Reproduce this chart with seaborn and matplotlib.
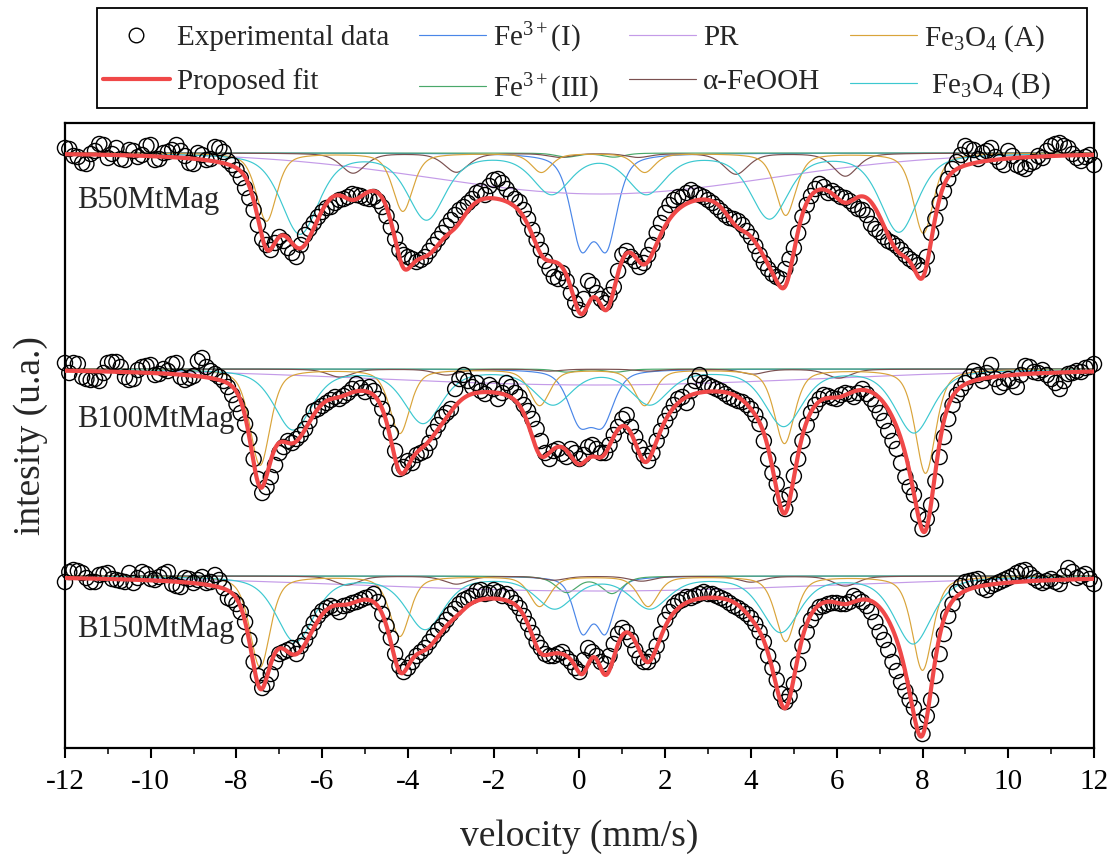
import numpy as np
import matplotlib
matplotlib.use("Agg")
import matplotlib.pyplot as plt
import seaborn as sns
from matplotlib.lines import Line2D
from matplotlib.patches import Rectangle
from matplotlib.ticker import MultipleLocator

# ---------------- data (absorption below baseline, units of 0.001) ----------------
samples = ["B50MtMag", "B100MtMag", "B150MtMag"]
offsets = [0.0, -0.216, -0.423]          # vertical stacking of the spectra
label_y = [0.945, 0.726, 0.516]

# channels at -12.0, -11.8, ..., 12.0
b50_abs = [-5, 3, 10, 1, -9, 5, -5, 7, -2, 2,
           -8, 6, -1, -8, 3, 11, 2, 6, -5, 8,
           17, 35, 57, 86, 97, 84, 95, 104, 82, 70,
           59, 54, 47, 44, 42, 45, 44, 54, 74, 97,
           104, 109, 104, 92, 80, 67, 57, 50, 40, 42,
           27, 30, 42, 49, 66, 87, 108, 124, 120, 140,
           157, 128, 140, 150, 134, 102, 104, 114, 102, 80,
           60, 47, 44, 37, 42, 47, 54, 62, 66, 72,
           84, 102, 116, 124, 116, 95, 64, 43, 31, 40,
           41, 45, 52, 57, 71, 79, 88, 93, 102, 109,
           117, 80, 50, 26, 9, -7, -3, 0, -5, 9,
           -2, 12, 16, 9, 5, -7, -10, -5, 5, 4,
           12]
# channels at -11.9, -11.7, ..., 11.9
b50_abs_mid = [-4, 4, 11, -2, -8, 1, 6, -3, 4, -7,
               7, 0, -3, -2, 10, 0, 7, -6, -1, 12,
               25, 45, 72, 92, 90, 88, 100, 92, 76, 64,
               55, 50, 46, 41, 43, 46, 48, 63, 86, 102,
               106, 107, 98, 86, 73, 62, 54, 46, 38, 33,
               26, 36, 46, 57, 77, 97, 116, 126, 128, 150,
               146, 132, 146, 142, 118, 98, 108, 110, 92, 70,
               52, 44, 40, 40, 44, 50, 58, 65, 68, 78,
               93, 110, 121, 126, 106, 80, 52, 36, 34, 38,
               44, 48, 56, 62, 76, 84, 90, 97, 106, 112,
               104, 66, 38, 16, 2, -4, 6, -2, 4, 12,
               3, 14, 11, 3, -2, -9, -7, 1, 8, 2]

b100_abs = [-6, -6, 8, 11, 12, -6, -7, 8, 10, -2,
            -4, 5, 2, -6, 11, 7, -11, 2, 8, 18,
            35, 55, 90, 124, 108, 84, 72, 70, 60, 42,
            37, 31, 30, 24, 15, 23, 22, 40, 64, 100,
            92, 86, 82, 63, 48, 40, 10, 12, 14, 25,
            20, 24, 18, 28, 42, 60, 84, 82, 85, 80,
            90, 78, 80, 84, 66, 50, 58, 78, 92, 72,
            52, 36, 28, 22, 6, 16, 20, 25, 30, 33,
            40, 55, 90, 115, 140, 107, 72, 44, 30, 27,
            30, 24, 28, 20, 30, 44, 62, 80, 108, 126,
            160, 136, 88, 50, 26, 14, 2, 12, -4, 18,
            10, 18, -3, 3, 1, 10, 20, 5, 2, -1,
            -5]
b100_abs_mid = [4, -5, 10, 10, 4, -7, -2, 11, 1, -3,
                6, 0, -5, 8, 9, -8, -2, 5, 12, 26,
                44, 70, 110, 118, 96, 78, 74, 66, 52, 40,
                34, 28, 27, 20, 19, 18, 30, 52, 82, 98,
                94, 84, 74, 56, 44, 20, 6, 18, 22, 16,
                30, 14, 24, 36, 50, 72, 90, 80, 88, 84,
                86, 76, 84, 76, 58, 46, 68, 86, 84, 62,
                44, 30, 34, 12, 14, 18, 22, 28, 32, 36,
                46, 72, 104, 130, 126, 90, 56, 36, 26, 29,
                26, 25, 24, 25, 36, 52, 72, 94, 118, 146,
                150, 112, 68, 36, 20, 8, 6, 4, 10, 14,
                12, 6, -2, 4, 6, 14, 12, 4, 3, -2]

b150_abs = [6, -6, -3, 6, -1, -3, 4, 6, 7, -4,
            3, 1, -4, 10, 2, 7, 1, 6, 4, 22,
            28, 46, 86, 112, 98, 78, 74, 78, 64, 47,
            35, 30, 36, 29, 26, 22, 18, 38, 62, 90,
            92, 80, 72, 60, 50, 38, 28, 22, 15, 18,
            14, 20, 22, 32, 48, 66, 78, 80, 76, 86,
            96, 72, 80, 88, 68, 52, 64, 82, 86, 70,
            44, 30, 24, 22, 18, 18, 20, 24, 30, 35,
            42, 56, 80, 104, 126, 108, 70, 44, 31, 28,
            27, 28, 20, 26, 36, 56, 74, 95, 115, 132,
            158, 124, 78, 40, 16, 6, 4, 12, 10, 6,
            2, -3, -6, 2, 7, 3, 8, -8, 2, -2,
            8]
b150_abs_mid = [-4, -5, 2, 6, -2, 3, 5, -3, 2, -2,
                4, -2, 8, 11, 3, 4, 7, -1, 12, 24,
                36, 64, 100, 108, 86, 76, 72, 70, 56, 40,
                32, 32, 30, 27, 24, 21, 26, 50, 78, 96,
                86, 76, 66, 54, 44, 33, 24, 20, 14, 17,
                16, 18, 27, 40, 57, 72, 80, 78, 82, 92,
                84, 76, 86, 80, 58, 56, 74, 86, 80, 58,
                36, 26, 21, 20, 16, 18, 22, 27, 32, 38,
                48, 66, 92, 118, 120, 88, 56, 37, 30, 27,
                28, 26, 23, 30, 46, 64, 86, 106, 124, 146,
                140, 100, 58, 28, 10, 5, 3, 14, 8, 4,
                0, -5, -2, 5, 5, 6, 0, -4, 0, 3]

exp_abs = [b50_abs, b100_abs, b150_abs]
exp_abs_mid = [b50_abs_mid, b100_abs_mid, b150_abs_mid]

# ---------------- fitted sub-spectra: line positions (mm/s), depths, HWHM ----------------
line_eta = 0.5   # Lorentzian fraction of the pseudo-Voigt line shape

fe3I_pos = [[0.04, 0.63], [0.00, 0.54], [0.07, 0.60]]
fe3I_depth = [[87, 87], [49, 49], [53, 53]]
fe3I_hwhm = [0.30, 0.32, 0.245]

fe3III_pos = [[-0.30, 0.80], [-0.30, 0.85], [-0.30, 0.76]]
fe3III_depth = [[4, 4], [3, 3], [16, 17]]
fe3III_hwhm = [0.30, 0.30, 0.30]

pr_center = [0.5, 0.4, 0.4]
pr_depth = [41, 16, 15]
pr_width = [5.6, 7.3, 7.8]

feooh_pos = [[-5.28, -2.87, -0.45, 1.37, 3.65, 6.20],
             [-5.59, -3.10, -0.70, 1.60, 4.04, 6.05],
             [-5.43, -2.87, -0.60, 1.45, 4.00, 6.20]]
feooh_depth = [[20, 19, 4, 4, 21, 23], [8, 6, 2, 2, 5, 9], [9, 8, 4, 5, 6, 10]]
feooh_hwhm = [0.34, 0.34, 0.34]

magA_pos = [[-7.30, -4.12, -0.89, 1.52, 4.81, 8.02],
            [-7.45, -4.19, -0.93, 1.52, 4.78, 8.07],
            [-7.45, -4.19, -0.93, 1.60, 4.81, 8.00]]
magA_depth = [[68, 58, 19, 19, 62, 80], [96, 64, 36, 36, 74, 104], [91, 60, 30, 30, 65, 94]]
magA_hwhm = [0.28, 0.28, 0.28]

magB_pos = [[-6.52, -3.57, -0.65, 1.56, 4.43, 7.45],
            [-6.68, -3.65, -0.62, 1.64, 4.76, 7.80],
            [-6.63, -3.60, -0.58, 1.64, 4.69, 7.78]]
magB_depth = [[80, 65, 39, 39, 64, 78], [60, 53, 34, 34, 56, 63], [65, 52, 31, 31, 55, 67]]
magB_hwhm = [0.52, 0.52, 0.52]

comp_labels = ["Fe$^{3+}$(I)", "Fe$^{3+}$(III)", "PR", "\u03b1-FeOOH",
               "Fe$_3$O$_4$ (A)", " Fe$_3$O$_4$ (B)"]
comp_colors = ["#4a86e8", "#4aa86a", "#c49be8", "#7a5050", "#d9a43a", "#3cc8d0"]
fit_color = "#f04848"


def pv_lines(v, pos, depth, hwhm):
    out = np.zeros_like(v)
    for c, d in zip(pos, depth):
        x = (v - c) / hwhm
        out += d * (line_eta / (1.0 + x ** 2) + (1 - line_eta) * np.exp(-np.log(2) * x ** 2))
    return out


# ---------------- style ----------------
sns.set_theme(style="white")
plt.rcParams["font.family"] = ["Liberation Serif", "DejaVu Serif"]
plt.rcParams["mathtext.fontset"] = "custom"
plt.rcParams["mathtext.rm"] = "Liberation Serif"
plt.rcParams["mathtext.it"] = "Liberation Serif:italic"
plt.rcParams["mathtext.bf"] = "Liberation Serif:bold"
plt.rcParams["axes.unicode_minus"] = False

fig = plt.figure(figsize=(11.11, 8.59), dpi=100)
ax = fig.add_axes([0.0585, 0.1292, 0.9262, 0.7276])

v_fine = np.linspace(-12, 12, 2401)

for i in range(3):
    off = offsets[i]
    comps = [
        pv_lines(v_fine, fe3I_pos[i], fe3I_depth[i], fe3I_hwhm[i]),
        pv_lines(v_fine, fe3III_pos[i], fe3III_depth[i], fe3III_hwhm[i]),
        pr_depth[i] * np.exp(-((v_fine - pr_center[i]) / pr_width[i]) ** 2),
        pv_lines(v_fine, feooh_pos[i], feooh_depth[i], feooh_hwhm[i]),
        pv_lines(v_fine, magA_pos[i], magA_depth[i], magA_hwhm[i]),
        pv_lines(v_fine, magB_pos[i], magB_depth[i], magB_hwhm[i]),
    ]
    for comp, col in zip(comps, comp_colors):
        sns.lineplot(x=v_fine, y=off + 1 - comp / 1000.0, ax=ax, color=col,
                     lw=0.85, sort=False, estimator=None, zorder=2)
    for vals, v0 in ((exp_abs[i], -12.0), (exp_abs_mid[i], -11.9)):
        vals = np.asarray(vals, dtype=float)
        v_exp = v0 + 0.2 * np.arange(len(vals))
        ax.scatter(v_exp, off + 1 - vals / 1000.0, s=118, facecolors="none",
                   edgecolors="black", linewidths=1.0, zorder=3, clip_on=False)
    fit = np.sum(comps, axis=0)
    sns.lineplot(x=v_fine, y=off + 1 - fit / 1000.0, ax=ax, color=fit_color,
                 lw=3.0, sort=False, estimator=None, zorder=4)
    ax.text(-11.73, label_y[i], samples[i], fontsize=22, ha="left", va="baseline",
            zorder=5)

ax.set_xlim(-12, 12)
ax.set_ylim(0.405, 1.030)
ax.set_yticks([])
ax.xaxis.set_major_locator(MultipleLocator(2))
ax.xaxis.set_minor_locator(MultipleLocator(1))
ax.tick_params(axis="x", which="major", direction="out", length=7, width=1.5,
               labelsize=21, bottom=True, top=False, pad=8, colors="black")
ax.tick_params(axis="x", which="minor", direction="out", length=4.5, width=1.3,
               bottom=True, top=False)
for sp in ax.spines.values():
    sp.set_linewidth(1.6)
    sp.set_color("black")
ax.set_xlabel("velocity (mm/s)", fontsize=27, labelpad=18)
ax.set_ylabel("intesity (u.a.)", fontsize=27, labelpad=12)

# legend box (frame drawn separately so rows can sit where they are in the original)
leg_box = (0.0873, 0.8743, 0.8908, 0.1164)
fig.patches.append(Rectangle((leg_box[0], leg_box[1]), leg_box[2], leg_box[3],
                             transform=fig.transFigure, fill=False,
                             edgecolor="black", lw=1.3, zorder=10))
leg_content = (0.0873, 0.8685, 0.8638, 0.1164)
handles = [
    Line2D([], [], ls="none", marker="o", ms=10.5, mfc="none", mec="black", mew=1.0),
    Line2D([], [], color=fit_color, lw=3.0),
] + [Line2D([], [], color=c, lw=0.85) for c in comp_colors]
labels = ["Experimental data", "Proposed fit"] + comp_labels
leg = fig.legend(handles, labels, ncol=4, loc="center left",
                 bbox_to_anchor=leg_content, mode="expand",
                 fontsize=21, frameon=False,
                 borderaxespad=0.0, handlelength=2.3, handletextpad=0.25,
                 labelspacing=0.58, borderpad=0.2, columnspacing=0.4)

fig.savefig("out.png", dpi=100)
